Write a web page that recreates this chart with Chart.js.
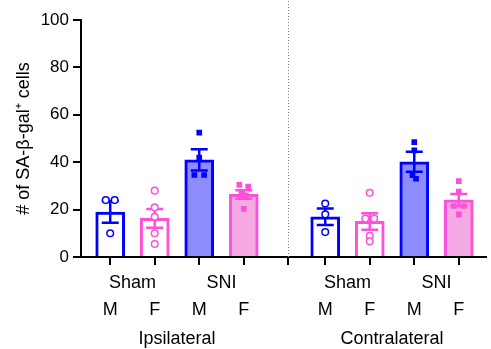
<!DOCTYPE html>
<html>
<head>
<meta charset="utf-8">
<script src="https://cdn.jsdelivr.net/npm/chart.js@4"></script>
<style>
  body { margin: 0; background: #fff; }
  #wrap { width: 491px; height: 349px; }
</style>
</head>
<body>
<div id="wrap"><canvas id="graph"></canvas></div>
<script>
// groupes et libellés
const sides = ["Ipsilateral", "Contralateral"];
const groups = ["Sham", "SNI"];
const sexes = ["M", "F", "M", "F"];
const yTicks = [0, 20, 40, 60, 80, 100];

// moyennes et SEM (ipsi puis contra)
const means = [19.0, 16.3, 41.0, 26.4, 17.0, 15.0, 40.2, 24.1];
const sems = [4.6, 4.0, 4.5, 1.8, 3.5, 3.5, 4.2, 2.5];

// valeurs individuelles
const points = [
  [24, 24, 10],
  [28, 21, 17, 10, 5.5],
  [52.5, 42, 34.6, 34.6],
  [30.4, 29.7, 26.8, 26, 20.3],
  [22.6, 18, 10.5],
  [27.1, 16.2, 16.2, 8.9, 6.6],
  [48.5, 45, 34.5, 33],
  [32, 27.6, 21.5, 21.5, 18]
];
// petit décalage horizontal des points (comme sur la figure)
const jitter = [
  [-0.1, 0.1, 0],
  [0, 0, 0, 0, 0],
  [0, 0, -0.11, 0.11],
  [-0.1, 0.1, -0.05, 0.05, 0],
  [0, 0, 0],
  [0, -0.1, 0.1, 0, 0],
  [0, 0, -0.04, 0.04],
  [0, 0, -0.11, 0.11, 0]
];

const blue = "rgb(0,0,255)";
const pink = "rgb(255,80,215)";
const borderColors = [blue, pink, blue, pink, blue, pink, blue, pink];
const fillColors = ["#ffffff", "#ffffff", "rgb(140,140,255)", "rgb(246,170,228)",
                    "#ffffff", "#ffffff", "rgb(140,140,255)", "rgb(246,170,228)"];

// position des barres sur l'axe x (deux blocs séparés)
const extraGap = 0.83;
const barX = [];
for (let i = 0; i < 8; i++) {
  barX.push(i < 4 ? i + 1 : i + 1 + extraGap);
}
const sepX = 5;
const xTicks = barX.slice(0, 4).concat([sepX], barX.slice(4));

const font = "'Liberation Sans', Arial, sans-serif";

const datasets = [{
  type: "bar",
  data: means.map((m, i) => ({ x: barX[i], y: m })),
  backgroundColor: fillColors,
  borderColor: borderColors,
  borderWidth: 3,
  barThickness: 29,
  order: 2
}];

for (let i = 0; i < points.length; i++) {
  const sham = (i % 4) < 2;
  datasets.push({
    type: "scatter",
    data: points[i].map((v, k) => ({ x: barX[i] + jitter[i][k], y: v })),
    pointStyle: sham ? "circle" : "rect",
    pointRadius: sham ? 3.3 : 4,
    pointBorderWidth: sham ? 1.5 : 0,
    pointBackgroundColor: sham ? "#ffffff" : borderColors[i],
    pointBorderColor: borderColors[i],
    order: 1
  });
}

const errorBars = {
  id: "errorBars",
  afterDatasetDraw(chart, args) {
    if (args.index !== 0) return;
    const ctx = chart.ctx;
    const xs = chart.scales.x, ys = chart.scales.y;
    ctx.save();
    ctx.lineWidth = 2.5;
    for (let i = 0; i < means.length; i++) {
      const x = xs.getPixelForValue(barX[i]);
      const yHi = ys.getPixelForValue(means[i] + sems[i]);
      const yLo = ys.getPixelForValue(means[i] - sems[i]);
      ctx.strokeStyle = borderColors[i];
      ctx.beginPath();
      ctx.moveTo(x, yHi); ctx.lineTo(x, yLo);
      ctx.moveTo(x - 8.5, yHi); ctx.lineTo(x + 8.5, yHi);
      ctx.moveTo(x - 8.5, yLo); ctx.lineTo(x + 8.5, yLo);
      ctx.stroke();
    }
    ctx.restore();
  }
};

const separator = {
  id: "separator",
  beforeDatasetsDraw(chart) {
    const ctx = chart.ctx;
    const x = Math.round(chart.scales.x.getPixelForValue(sepX)) + 0.5;
    ctx.save();
    ctx.strokeStyle = "#808080";
    ctx.lineWidth = 1;
    ctx.setLineDash([1, 2]);
    ctx.beginPath();
    ctx.moveTo(x, 1);
    ctx.lineTo(x, chart.chartArea.bottom);
    ctx.stroke();
    ctx.restore();
  }
};

const bottomLabels = {
  id: "bottomLabels",
  afterDraw(chart) {
    const ctx = chart.ctx;
    const xs = chart.scales.x;
    const b = chart.chartArea.bottom;
    ctx.save();
    ctx.fillStyle = "#000";
    ctx.font = "18px " + font;
    ctx.textAlign = "center";
    ctx.textBaseline = "alphabetic";
    for (let s = 0; s < 2; s++) {
      for (let g = 0; g < 2; g++) {
        const i = s * 4 + g * 2;
        const mid = (xs.getPixelForValue(barX[i]) + xs.getPixelForValue(barX[i + 1])) / 2;
        ctx.fillText(groups[g], mid, b + 31);
      }
      const c = (xs.getPixelForValue(barX[s * 4]) + xs.getPixelForValue(barX[s * 4 + 3])) / 2;
      ctx.fillText(sides[s], c, b + 87);
    }
    for (let i = 0; i < 8; i++) {
      ctx.fillText(sexes[i % 4], xs.getPixelForValue(barX[i]), b + 58);
    }
    ctx.restore();
  }
};

new Chart(document.getElementById("graph"), {
  data: { datasets: datasets },
  plugins: [errorBars, separator, bottomLabels],
  options: {
    responsive: true,
    maintainAspectRatio: false,
    animation: false,
    layout: { padding: { top: 20, right: 1, left: 0, bottom: 0 } },
    plugins: { legend: { display: false }, tooltip: { enabled: false } },
    scales: {
      x: {
        type: "linear",
        min: 0.344,
        max: 9.43,
        offset: false,
        afterBuildTicks: (s) => { s.ticks = xTicks.map(v => ({ value: v })); },
        afterFit: (s) => { s.height = 92; s.paddingLeft = 0; s.paddingRight = 0; },
        ticks: { display: false },
        grid: { offset: false, drawOnChartArea: false, tickLength: 8, tickColor: "#000", lineWidth: 2 },
        border: { color: "#000", width: 2 }
      },
      y: {
        min: 0,
        max: 100,
        afterBuildTicks: (s) => { s.ticks = yTicks.map(v => ({ value: v })); },
        afterFit: (s) => { s.width = 81; s.paddingTop = 0; s.paddingBottom = 0; },
        ticks: {
          color: "#000",
          padding: 4,
          font: { family: font, size: 17 }
        },
        grid: { drawOnChartArea: false, tickLength: 8, tickColor: "#000", lineWidth: 2 },
        border: { color: "#000", width: 2 },
        title: {
          display: true,
          text: "# of SA-β-gal⁺ cells",
          color: "#000",
          padding: { top: 13, bottom: 0 },
          font: { family: font, size: 18 }
        }
      }
    }
  }
});
</script>
</body>
</html>
